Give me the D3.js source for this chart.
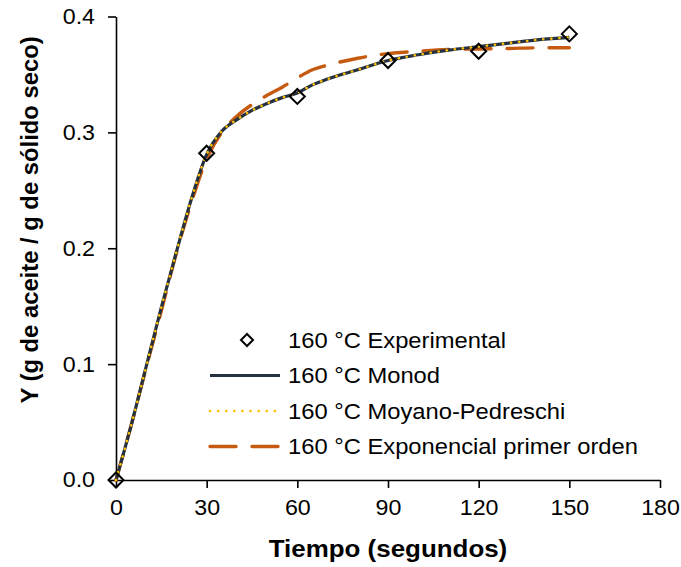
<!DOCTYPE html>
<html>
<head>
<meta charset="utf-8">
<script src="https://cdn.jsdelivr.net/npm/d3@7/dist/d3.min.js"></script>
<style>
  html, body { margin: 0; padding: 0; background: #fff; }
  svg { display: block; font-family: "Liberation Sans", Arial, sans-serif; }
</style>
</head>
<body>
<svg id="chart" width="681" height="567"></svg>
<script>
// Oil uptake during frying at 160 °C: measured points and three kinetic models
const expTime = [0, 30, 60, 90, 120, 150];
const expY = [0.000, 0.282, 0.331, 0.362, 0.370, 0.385];

const modelTime = [0, 5, 10, 15, 20, 25, 30, 35, 40, 45, 50, 55, 60, 65, 70, 80, 90, 100, 110, 120, 130, 140, 150];
const monodY = [0.000, 0.047, 0.098, 0.149, 0.197, 0.243, 0.281, 0.301, 0.311, 0.319, 0.325, 0.330, 0.334, 0.341, 0.346, 0.354, 0.362, 0.367, 0.371, 0.374, 0.377, 0.380, 0.382];
const moyanoY = [0.000, 0.047, 0.098, 0.149, 0.197, 0.243, 0.281, 0.301, 0.311, 0.319, 0.325, 0.330, 0.334, 0.341, 0.346, 0.354, 0.362, 0.367, 0.371, 0.374, 0.377, 0.380, 0.382];
const expoY = [0.000, 0.047, 0.097, 0.146, 0.196, 0.240, 0.277, 0.300, 0.314, 0.324, 0.332, 0.339, 0.347, 0.354, 0.358, 0.364, 0.368, 0.370, 0.3715, 0.372, 0.3724, 0.373, 0.373];

const xTicks = [0, 30, 60, 90, 120, 150, 180];
const yTicks = [0.0, 0.1, 0.2, 0.3, 0.4];

const legendLabels = [
  "160 °C Experimental",
  "160 °C Monod",
  "160 °C Moyano-Pedreschi",
  "160 °C Exponencial primer orden"
];

const svg = d3.select("#chart");
const plotL = 116, plotR = 660, plotT = 16.5, plotB = 480;
const wide = 1.08; // horizontal stretch applied to the lettering

const x = d3.scaleLinear().domain([0, 180]).range([plotL, plotR]);
const y = d3.scaleLinear().domain([0, 0.4]).range([plotB, plotT]);

// Axes
const xAxis = svg.append("g").attr("transform", `translate(0,${plotB})`)
  .call(d3.axisBottom(x).tickValues(xTicks).tickSize(8).tickPadding(12).tickSizeOuter(0)
    .tickFormat(d3.format("d")));
const yAxis = svg.append("g").attr("transform", `translate(${plotL},0)`)
  .call(d3.axisLeft(y).tickValues(yTicks).tickSize(8).tickPadding(12).tickSizeOuter(0)
    .tickFormat(d3.format(".1f")));

[xAxis, yAxis].forEach(g => {
  g.select(".domain").attr("stroke", "#000").attr("stroke-width", 1.6);
  g.selectAll(".tick line").attr("stroke", "#000").attr("stroke-width", 1.6);
  g.selectAll(".tick text").attr("fill", "#000").attr("font-size", 21.5)
    .attr("font-family", "Liberation Sans, Arial, sans-serif");
});
xAxis.selectAll(".tick text").attr("transform", `scale(${wide},1)`);
yAxis.selectAll(".tick text").attr("x", -21 / wide).attr("transform", `scale(${wide},1)`);

// Axis titles
svg.append("text")
  .attr("transform", `translate(${(plotL + plotR) / 2},557) scale(${wide},1)`)
  .attr("text-anchor", "middle")
  .attr("font-size", 24).attr("font-weight", "bold")
  .text("Tiempo (segundos)");

svg.append("text")
  .attr("transform", `translate(38,220) rotate(-90)`)
  .attr("text-anchor", "middle")
  .attr("font-size", 23.8).attr("font-weight", "bold")
  .text("Y (g de aceite / g de sólido seco)");

// Model curves
const line = ys => d3.line()
  .x((d, i) => x(modelTime[i]))
  .y((d, i) => y(ys[i]))
  .curve(d3.curveMonotoneX)(ys);

const styles = {
  monod: { stroke: "#263140", width: 3.2, dash: null, cap: "butt" },
  moyano: { stroke: "#ffc000", width: 2.6, dash: "0.1,8", cap: "round" },
  expo: { stroke: "#c55a11", width: 3.4, dash: "26,16", cap: "round" }
};

svg.append("path").attr("d", line(expoY)).attr("fill", "none")
  .attr("stroke", styles.expo.stroke).attr("stroke-width", styles.expo.width)
  .attr("stroke-dasharray", styles.expo.dash).attr("stroke-linecap", styles.expo.cap);
svg.append("path").attr("d", line(monodY)).attr("fill", "none")
  .attr("stroke", styles.monod.stroke).attr("stroke-width", styles.monod.width);
svg.append("path").attr("d", line(moyanoY)).attr("fill", "none")
  .attr("stroke", styles.moyano.stroke).attr("stroke-width", styles.moyano.width)
  .attr("stroke-dasharray", styles.moyano.dash).attr("stroke-linecap", styles.moyano.cap);

// Experimental points (open diamonds)
const diamond = s => `M0,${-s}L${s},0L0,${s}L${-s},0Z`;
svg.append("g").selectAll("path").data(expTime).join("path")
  .attr("transform", (d, i) => `translate(${x(d)},${y(expY[i])})`)
  .attr("d", diamond(7.5))
  .attr("fill", "none").attr("stroke", "#000").attr("stroke-width", 2);

// Legend
const lg = svg.append("g");
const rowY = [340, 375.5, 411, 446.5];
const lx0 = 210, lx1 = 280, tx = 288;

lg.append("path").attr("transform", `translate(${(lx0 + lx1) / 2 + 2},${rowY[0]})`)
  .attr("d", diamond(6)).attr("fill", "none").attr("stroke", "#000").attr("stroke-width", 2);
[["monod", 1], ["moyano", 2], ["expo", 3]].forEach(([k, r]) => {
  const s = styles[k];
  lg.append("line").attr("x1", lx0).attr("x2", lx1).attr("y1", rowY[r]).attr("y2", rowY[r])
    .attr("stroke", s.stroke).attr("stroke-width", s.width)
    .attr("stroke-dasharray", s.dash).attr("stroke-linecap", s.cap);
});
legendLabels.forEach((t, i) => {
  lg.append("text").attr("transform", `translate(${tx},${rowY[i]}) scale(${wide},1)`)
    .attr("dy", "0.35em")
    .attr("font-size", 22).attr("fill", "#000").text(t);
});
</script>
</body>
</html>
